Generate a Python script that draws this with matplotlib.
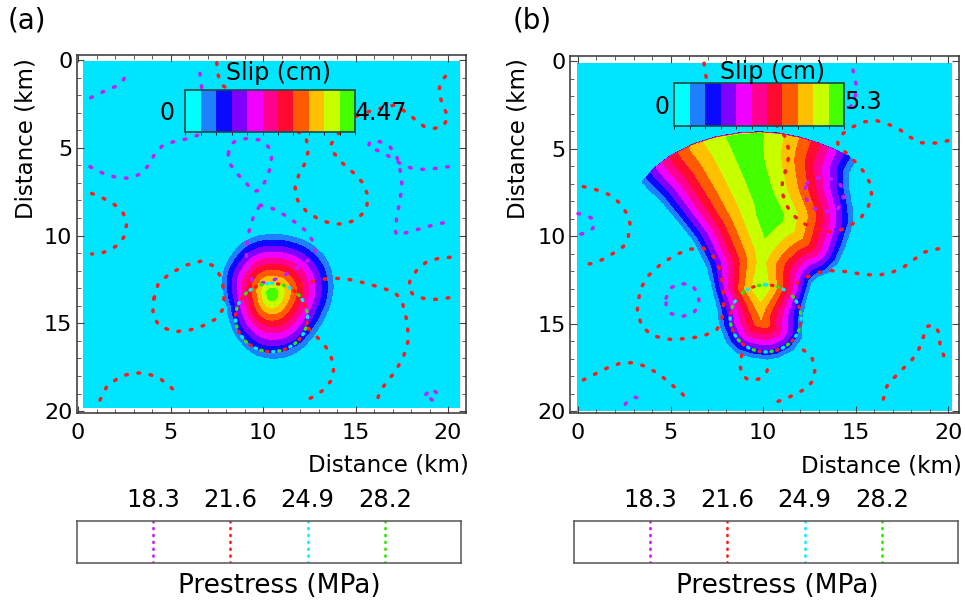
"""Slip maps for two rupture scenarios with prestress contours."""
import numpy as np
import matplotlib
matplotlib.use("Agg")
import matplotlib.pyplot as plt
from matplotlib.cm import ScalarMappable
from matplotlib.colors import BoundaryNorm, ListedColormap
from matplotlib.patches import Circle
from matplotlib.path import Path
from matplotlib.ticker import MultipleLocator

SLIP_COLORS = ["#00e5ff", "#1e7fff", "#0a0aff", "#8000ff", "#f000ff", "#ff0090",
               "#ff0a30", "#ff5a00", "#ffc000", "#c8ff00", "#44ff00"]
BAR_COLORS = ["#00ffff"] + SLIP_COLORS[1:]

PRESTRESS_LEVELS = [18.3, 21.6, 24.9, 28.2]
PRESTRESS_COLORS = ["#c81aff", "#ff1a1a", "#00f0ff", "#2ee600"]
PRESTRESS_RANGE = (15.05, 31.45)
RING_COLORS = ["#00f0ff", "#2ee600", "#ff1a1a"]

# ---- panel (a) ----
A_SLIP_MAX = 4.47
A_PEAK = (10.47, 13.35)
A_EDGE_X = [10.56, 11.64, 12.54, 13.26, 13.66, 13.80, 13.71, 13.44, 12.99, 12.54, 12.00, 11.28,
            10.47, 9.66, 9.03, 8.58, 8.25, 8.04, 7.86, 7.80, 7.95, 8.31, 8.85, 9.66]
A_EDGE_Y = [9.93, 10.07, 10.45, 11.11, 11.87, 12.73, 13.68, 14.43, 15.29, 15.95, 16.52, 16.90,
            17.02, 16.81, 16.33, 15.76, 15.00, 14.05, 13.30, 12.54, 11.78, 11.11, 10.45, 10.03]
A_NUCLEATION = (10.46, 14.67, 1.95)
A_PURPLE = [
    [(0.69, 2.15), (1.37, 1.80), (2.00, 1.52), (2.45, 1.14), (2.72, 0.57)],
    [(0.65, 6.08), (1.37, 6.46), (2.09, 6.70), (2.81, 6.74), (3.44, 6.46), (3.89, 5.89),
     (4.16, 5.32), (4.61, 4.84), (5.33, 4.60), (6.05, 4.46), (6.50, 4.27), (6.59, 3.23),
     (6.68, 2.28), (6.68, 1.52), (6.59, 0.76), (6.59, 0.28)],
    [(8.13, 5.32), (8.22, 4.84), (8.58, 4.56), (9.21, 4.46), (9.84, 4.56), (10.29, 4.94),
     (10.47, 5.51), (10.38, 6.17), (10.20, 6.74), (9.84, 7.41), (9.48, 7.50), (9.03, 6.93),
     (8.58, 6.46), (8.13, 5.79), (8.13, 5.32)],
    [(20.02, 6.08), (19.39, 6.17), (18.67, 6.23), (18.04, 6.17), (17.41, 5.89), (16.68, 5.41),
     (16.14, 5.13), (15.69, 4.94), (15.78, 4.65), (16.32, 4.65), (16.86, 4.94), (17.23, 5.51),
     (17.41, 6.27), (17.50, 7.03), (17.41, 7.98), (17.23, 8.93), (17.14, 9.69), (17.23, 9.97),
     (17.95, 9.78), (18.85, 9.50), (19.57, 9.31), (20.20, 9.21)],
    [(9.84, 8.26), (10.65, 8.51), (11.46, 9.02), (12.27, 9.69), (12.72, 10.35), (12.81, 10.92),
     (12.45, 11.40), (11.82, 11.87), (11.28, 12.19), (10.56, 12.54), (9.84, 12.73), (9.39, 12.54),
     (9.12, 11.59), (9.08, 10.83), (9.21, 9.88), (9.48, 8.93), (9.84, 8.26)],
    [(18.80, 19.05), (19.12, 18.72), (19.45, 19.02), (19.15, 19.38), (18.80, 19.05)],
]
A_RED = [
    [(7.50, 0.15), (7.57, 0.85), (7.77, 1.42), (9.84, 2.85), (11.64, 3.89), (12.32, 4.41),
     (12.45, 5.13), (12.32, 5.79), (11.96, 6.46), (11.73, 7.22), (11.86, 7.98), (12.32, 8.60),
     (13.08, 9.12), (13.80, 9.34), (14.43, 9.34), (15.06, 9.08), (15.57, 8.55), (15.69, 7.79),
     (15.42, 7.03), (14.88, 6.42), (14.31, 5.89), (13.84, 5.32), (13.66, 4.84), (13.89, 4.41),
     (14.25, 3.99), (14.97, 3.23), (15.96, 2.85), (17.14, 2.56), (17.95, 3.13), (18.34, 3.53),
     (18.76, 3.82), (19.21, 3.91), (19.75, 3.76), (20.02, 3.23), (19.71, 2.62), (19.50, 1.80),
     (19.60, 1.23), (19.93, 0.85), (20.25, 0.57)],
    [(0.74, 7.60), (1.37, 7.88), (2.00, 8.26), (2.45, 8.74), (2.63, 9.31), (2.54, 9.97),
     (2.27, 10.45), (1.73, 10.83), (1.19, 11.02), (0.74, 11.05)],
    [(4.11, 13.58), (4.34, 12.73), (4.97, 12.16), (5.87, 11.68), (6.68, 11.45), (7.35, 11.74),
     (7.77, 12.44), (7.89, 13.30), (7.86, 14.15), (7.50, 14.72), (6.86, 15.10), (6.05, 15.38),
     (5.24, 15.48), (4.43, 15.19), (4.07, 14.62), (4.04, 14.05), (4.11, 13.58)],
    [(12.00, 12.82), (12.90, 12.54), (13.44, 12.46), (14.16, 12.44), (14.88, 12.54), (15.60, 12.73),
     (16.32, 12.95), (17.05, 13.20), (17.44, 13.58), (17.62, 14.15), (17.80, 15.00), (17.86, 15.95),
     (17.59, 16.90), (17.14, 17.76), (16.68, 18.33), (16.32, 18.90), (16.14, 19.47)],
    [(12.45, 15.29), (12.81, 15.67), (13.26, 16.14), (13.62, 16.71), (13.84, 17.47), (13.71, 18.23),
     (13.26, 18.80), (12.72, 19.18), (12.27, 19.41)],
    [(20.11, 11.24), (19.48, 11.30), (18.85, 11.49), (18.31, 11.97), (17.95, 12.54), (17.86, 13.01),
     (18.13, 13.39), (18.67, 13.58), (19.39, 13.64), (20.20, 13.52)],
    [(1.19, 19.37), (1.55, 18.61), (2.27, 18.04), (2.99, 17.82), (3.71, 17.85), (4.43, 18.14),
     (4.97, 18.61), (5.51, 19.09)],
]

# ---- panel (b) ----
B_SLIP_MAX = 5.3
B_TOP_X = [3.46, 4.07, 4.97, 6.23, 7.50, 8.76, 9.84, 10.92, 12.00, 13.08, 13.98, 14.61, 14.97]
B_TOP_Y = [6.90, 6.15, 5.41, 4.72, 4.30, 4.08, 4.02, 4.11, 4.34, 4.70, 5.09, 5.41, 5.73]
B_SIDE_X = [14.97, 14.67, 14.63, 14.83, 14.85, 14.70, 14.43, 14.05, 13.46, 12.92, 12.63, 12.43,
            12.16, 12.11, 11.62, 10.76, 10.22, 9.46, 8.59, 8.05, 7.68, 7.51, 7.24, 6.97, 6.59,
            6.22, 5.35, 4.43, 3.75, 3.46]
B_SIDE_Y = [5.73, 6.30, 7.18, 8.32, 9.24, 9.73, 10.61, 11.52, 12.10, 12.32, 12.59, 13.24,
            14.38, 15.75, 16.50, 16.95, 17.03, 16.95, 16.67, 16.10, 15.18, 14.04, 12.90, 11.75,
            10.95, 10.21, 9.07, 7.92, 7.24, 6.90]
# width (km) over which slip builds up from the rupture edge, by depth
B_BUILDUP_Y = [4.0, 8.8, 11.5, 13.0, 14.6, 18.0]
B_BUILDUP = [4.3, 3.1, 2.8, 2.15, 2.8, 2.8]
B_NUCLEATION = (10.14, 14.69, 1.92)
B_PURPLE = [
    [(14.86, 0.50), (14.97, 1.07), (15.08, 1.52), (14.97, 2.04), (14.81, 2.50), (14.43, 2.90),
     (13.98, 3.45)],
    [(12.36, 6.97), (12.72, 6.69), (13.44, 6.63), (14.07, 6.88), (14.34, 7.35), (14.34, 8.02),
     (13.98, 8.50), (13.35, 8.59), (12.72, 8.40), (12.36, 7.92), (12.27, 7.35), (12.36, 6.97)],
    [(0.00, 8.70), (0.40, 8.78), (0.80, 9.00), (0.88, 9.30), (0.80, 9.55), (0.40, 9.83),
     (0.00, 9.90)],
    [(4.76, 13.54), (4.97, 12.97), (5.51, 12.69), (6.14, 12.78), (6.50, 13.26), (6.56, 13.92),
     (6.23, 14.40), (5.60, 14.59), (4.97, 14.40), (4.76, 13.92), (4.76, 13.54)],
    [(2.55, 19.60), (2.75, 19.35), (3.10, 19.20), (3.50, 19.30)],
]
B_RED = [
    [(6.81, 0.11), (6.86, 0.61), (6.97, 1.10), (8.76, 2.40), (10.56, 3.45), (10.92, 3.92),
     (11.24, 4.40), (11.42, 5.26), (11.28, 6.02), (11.06, 6.78), (11.01, 7.35), (11.19, 8.11),
     (11.55, 8.69), (12.00, 9.16), (12.72, 9.54), (13.44, 9.73), (13.98, 9.73), (14.43, 9.54),
     (14.88, 9.26), (15.33, 8.88), (15.69, 8.30), (15.87, 7.64), (15.78, 6.97), (15.51, 6.40),
     (15.06, 5.83), (14.52, 5.26), (14.07, 4.88), (14.02, 4.50), (14.34, 4.11), (14.88, 3.73),
     (15.51, 3.45), (16.14, 3.39), (16.86, 3.64), (17.41, 3.92), (17.95, 4.34), (18.49, 4.65),
     (19.03, 4.69), (19.57, 4.65), (20.02, 4.53)],
    [(0.29, 7.16), (1.01, 7.35), (1.73, 7.64), (2.27, 8.11), (2.63, 8.69), (2.81, 9.26),
     (2.72, 10.02), (2.45, 10.59), (1.91, 10.97), (1.37, 11.31), (0.83, 11.54), (0.29, 11.64)],
    [(3.21, 14.21), (3.35, 13.07), (3.75, 12.30), (4.43, 11.64), (5.24, 11.07), (6.05, 10.74),
     (6.77, 10.67), (7.32, 11.16), (7.68, 11.92), (7.86, 12.88), (7.86, 14.02), (7.77, 14.78),
     (7.50, 15.35), (6.77, 15.70), (5.87, 15.85), (4.97, 15.89), (4.07, 15.70), (3.44, 15.16),
     (3.21, 14.21)],
    [(11.82, 12.69), (12.36, 12.34), (12.90, 12.08), (13.62, 11.96), (14.52, 12.02), (15.24, 12.15),
     (16.14, 12.23), (16.86, 12.11), (17.59, 11.77), (18.13, 11.35), (18.67, 10.93), (19.21, 10.74),
     (19.93, 10.69)],
    [(8.85, 16.78), (8.76, 17.35), (8.85, 17.92), (9.21, 18.21), (9.75, 18.17), (10.20, 17.73),
     (10.38, 17.16)],
    [(12.18, 16.50), (12.63, 16.88), (12.81, 17.54), (12.72, 18.21), (12.36, 18.69), (11.82, 18.97),
     (11.28, 19.26), (10.77, 19.45)],
    [(0.29, 18.21), (0.83, 17.92), (1.55, 17.54), (2.27, 17.26), (2.99, 17.22), (3.71, 17.45),
     (4.43, 17.92), (4.97, 18.40), (5.51, 18.88), (5.96, 19.35)],
    [(16.50, 19.31), (16.68, 18.59), (17.05, 18.11), (17.59, 17.54), (18.04, 17.07), (18.40, 16.50),
     (18.67, 15.73), (18.85, 15.16), (19.21, 15.06), (19.48, 15.45), (19.57, 16.21), (19.75, 16.78),
     (19.89, 17.16)],
]


def radial_slip(xx, yy, peak, edge_x, edge_y, smax):
    """Slip falling off linearly from the peak to the rupture edge."""
    px, py = peak
    ex = np.asarray(edge_x) - px
    ey = np.asarray(edge_y) - py
    ang = np.arctan2(yy - py, xx - px)
    reach = np.interp(ang, np.arctan2(ey, ex), np.hypot(ex, ey), period=2 * np.pi)
    rho = np.hypot(xx - px, yy - py) / reach
    return np.where(rho < 1, smax * (1 + 10 * (1 - rho)) / 11, 0.0)


def edge_distance(xx, yy, xs, ys):
    d = np.full(xx.shape, np.inf)
    for x0, y0, x1, y1 in zip(xs[:-1], ys[:-1], xs[1:], ys[1:]):
        dx, dy = x1 - x0, y1 - y0
        t = np.clip(((xx - x0) * dx + (yy - y0) * dy) / (dx * dx + dy * dy), 0, 1)
        d = np.minimum(d, np.hypot(xx - x0 - t * dx, yy - y0 - t * dy))
    return d


def fan_slip(xx, yy, top_x, top_y, side_x, side_y, smax, top_sharp=50.0):
    """Slip rising away from the rupture sides, sharp front along the top."""
    outline = np.column_stack([top_x + side_x[1:], top_y + side_y[1:]])
    pts = np.column_stack([xx.ravel(), yy.ravel()])
    inside = Path(outline).contains_points(pts).reshape(xx.shape)
    d = np.minimum(edge_distance(xx, yy, side_x, side_y),
                   top_sharp * edge_distance(xx, yy, top_x, top_y))
    s = d / np.interp(yy, B_BUILDUP_Y, B_BUILDUP)
    f = np.clip(np.tanh(s / 1.07) / 0.898, 0, 1)
    return np.where(inside, smax * (1 + 10 * f) / 11, 0.0)


def draw_map(ax, field_x, field_y, slip, smax, purple, red, nucleation, xlim, ylim):
    levels = np.linspace(0, smax, 12)
    ax.contourf(field_x, field_y, slip, levels=levels, colors=SLIP_COLORS, zorder=1)
    dotted = dict(lw=2.5, ls=(0, (0.5, 3.1)), dash_capstyle="round", zorder=3)
    for curve in purple:
        xs, ys = zip(*curve)
        ax.plot(xs, ys, color=PRESTRESS_COLORS[0], **dotted)
    for curve in red:
        xs, ys = zip(*curve)
        ax.plot(xs, ys, color=PRESTRESS_COLORS[1], **dotted)
    cx, cy, r = nucleation
    for k, color in enumerate(RING_COLORS):
        ax.add_patch(Circle((cx, cy), r, fill=False, ec=color, lw=2.4,
                            ls=(k * 1.8, (0.4, 5.0)), capstyle="round", zorder=4))
    ax.set_xlim(*xlim)
    ax.set_ylim(*ylim)
    ax.set_xticks(range(0, 21, 5))
    ax.set_yticks(range(0, 21, 5))
    ax.xaxis.set_minor_locator(MultipleLocator(1))
    ax.yaxis.set_minor_locator(MultipleLocator(1))
    ax.tick_params(which="both", direction="in", top=True, right=True, labelsize=16,
                   color="#444444")
    ax.tick_params(which="major", length=5)
    ax.tick_params(which="minor", length=3)
    ax.tick_params(axis="x", pad=7)
    ax.tick_params(axis="y", pad=3)
    for sp in ax.spines.values():
        sp.set_color("#333333")
        sp.set_linewidth(1.1)


def draw_slip_bar(fig, ax, bounds, smax, label_x, label_y, zero_x, max_text, max_y):
    cax = ax.inset_axes(bounds)
    norm = BoundaryNorm(np.linspace(0, smax, 12), len(BAR_COLORS))
    sm = ScalarMappable(norm=norm, cmap=ListedColormap(BAR_COLORS))
    cb = fig.colorbar(sm, cax=cax, orientation="horizontal")
    cb.set_ticks([])
    cb.outline.set_edgecolor("#1d4a4a")
    cb.outline.set_linewidth(1.2)
    cax.text(label_x, label_y, "Slip (cm)", transform=cax.transAxes, ha="center",
             va="center", fontsize=17)
    cax.text(zero_x, 0.45, "0", transform=cax.transAxes, ha="center", va="center", fontsize=17)
    cax.text(1.0, max_y, max_text, transform=cax.transAxes, ha="left", va="center", fontsize=17)


def draw_prestress_box(fig, rect, label_x):
    ax = fig.add_axes(rect)
    for level, color in zip(PRESTRESS_LEVELS, PRESTRESS_COLORS):
        ax.axvline(level, color=color, lw=1.9, ls=(0, (0.4, 2.2)), dash_capstyle="round")
    ax.set_xlim(*PRESTRESS_RANGE)
    ax.set_ylim(0, 1)
    ax.set_yticks([])
    ax.set_xticks(PRESTRESS_LEVELS)
    ax.set_xticklabels([f"{v:.1f}" for v in PRESTRESS_LEVELS])
    ax.tick_params(axis="x", top=True, bottom=False, labeltop=True, labelbottom=False,
                   length=0, pad=6, labelsize=17.5)
    ax.set_xlabel("Prestress (MPa)", fontsize=19)
    ax.xaxis.set_label_position("bottom")
    ax.xaxis.set_label_coords(label_x, -0.54)
    ax.xaxis.label.set_va("center")
    for sp in ax.spines.values():
        sp.set_color("#555555")
        sp.set_linewidth(1.1)


def main():
    fig = plt.figure(figsize=(9.65, 6.04), dpi=100)

    # panel (a)
    ax_a = fig.add_axes([0.0793, 0.3162, 0.4036, 0.5932])
    gx = np.linspace(0.32, 20.6, 520)
    gy = np.linspace(0.06, 19.77, 520)
    xx, yy = np.meshgrid(gx, gy)
    slip_a = radial_slip(xx, yy, A_PEAK, A_EDGE_X, A_EDGE_Y, A_SLIP_MAX)
    draw_map(ax_a, gx, gy, slip_a, A_SLIP_MAX, A_PURPLE, A_RED, A_NUCLEATION,
             (-0.08, 20.97), (20.11, -0.3))
    draw_slip_bar(fig, ax_a, [0.2793, 0.7843, 0.4365, 0.1164], A_SLIP_MAX,
                  0.551, 1.415, -0.108, "4.47", 0.45)

    # panel (b)
    ax_b = fig.add_axes([0.5907, 0.3162, 0.4031, 0.5916])
    gx = np.linspace(-0.05, 20.16, 520)
    gy = np.linspace(0.1, 19.93, 520)
    xx, yy = np.meshgrid(gx, gy)
    slip_b = fan_slip(xx, yy, B_TOP_X, B_TOP_Y, B_SIDE_X, B_SIDE_Y, B_SLIP_MAX)
    draw_map(ax_b, gx, gy, slip_b, B_SLIP_MAX, B_PURPLE, B_RED, B_NUCLEATION,
             (-0.43, 20.59), (20.1, -0.32))
    draw_slip_bar(fig, ax_b, [0.2681, 0.804, 0.437, 0.1195], B_SLIP_MAX,
                  0.58, 1.26, -0.07, "5.3", 0.55)

    for ax, lx, ly, yx, yy_ in [(ax_a, 0.802, -0.145, -0.1297, 0.765),
                                (ax_b, 0.800, -0.148, -0.134, 0.767)]:
        ax.set_xlabel("Distance (km)", fontsize=16.5)
        ax.set_ylabel("Distance (km)", fontsize=16.5)
        ax.xaxis.set_label_coords(lx, ly)
        ax.yaxis.set_label_coords(yx, yy_)
        ax.xaxis.label.set_va("center")
        ax.yaxis.label.set_va("center")

    draw_prestress_box(fig, [0.0798, 0.0679, 0.3979, 0.0700], 0.527)
    draw_prestress_box(fig, [0.5948, 0.0679, 0.3979, 0.0700], 0.529)

    fig.text(27 / 965, 1 - 20 / 604, "(a)", fontsize=20, ha="center", va="center")
    fig.text(532 / 965, 1 - 20 / 604, "(b)", fontsize=20, ha="center", va="center")

    fig.savefig("out.png", dpi=100)
    plt.close(fig)


if __name__ == "__main__":
    main()
